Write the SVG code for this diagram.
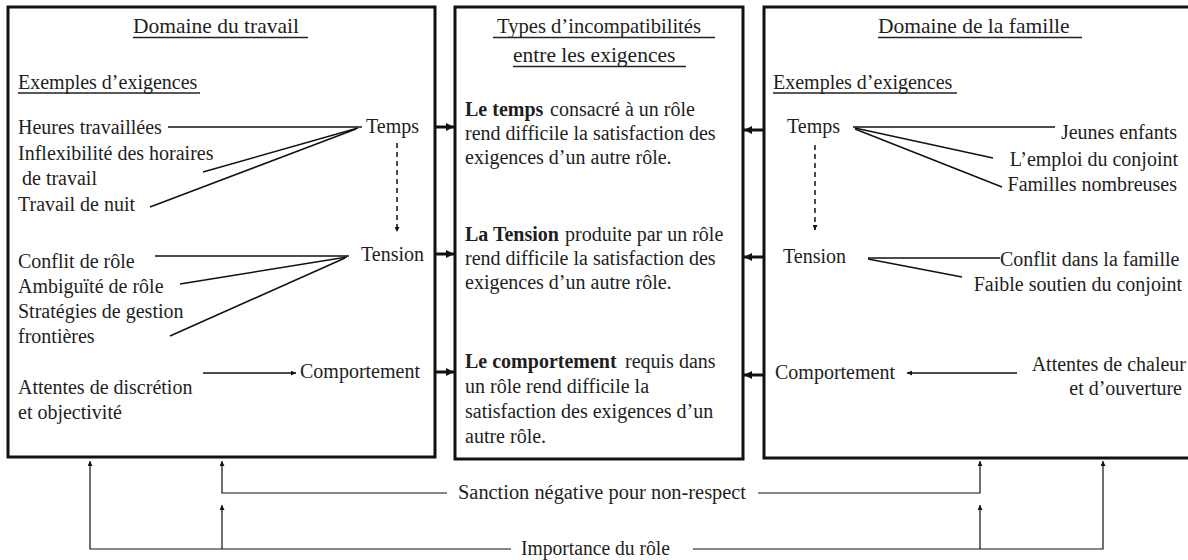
<svg xmlns="http://www.w3.org/2000/svg" width="1188" height="560" viewBox="0 0 1188 560" font-family="'Liberation Serif', 'DejaVu Serif', serif">
<style>
  text { font-family: 'Liberation Serif', 'DejaVu Serif', serif; font-size: 20px; fill: #1e1e1e; }
  .title { font-size: 21.5px; }
  .b { font-weight: bold; }
  .box { fill: #fff; stroke: #111; stroke-width: 3; }
  .ln { stroke: #111; stroke-width: 1.5; fill: none; }
  .thin { stroke: #111; stroke-width: 1.2; fill: none; }
  .dash { stroke-dasharray: 5 4; }
  .ul { stroke: #222; stroke-width: 1.4; }
  .thick { stroke: #111; stroke-width: 3; fill: none; }
</style>
<defs>
  <marker id="ahs" viewBox="0 0 10 10" refX="10" refY="5" markerWidth="7" markerHeight="5" markerUnits="userSpaceOnUse" orient="auto">
    <path d="M0,0 L10,5 L0,10 z" fill="#111"/>
  </marker>
  <marker id="ahb" viewBox="0 0 10 10" refX="10" refY="5" markerWidth="8" markerHeight="9" markerUnits="userSpaceOnUse" orient="auto">
    <path d="M0,0 L10,5 L0,10 z" fill="#111"/>
  </marker>
</defs>

<g id="travail">
  <rect class="box" x="8" y="7" width="427" height="450"/>
  <text class="title" x="133" y="33">Domaine du travail</text>
  <line class="ul" x1="133" y1="37.5" x2="308" y2="37.5"/>
  <text x="18" y="89">Exemples d’exigences</text>
  <line class="ul" x1="18" y1="93" x2="200" y2="93"/>
  <text x="18" y="134">Heures travaillées</text>
  <text x="18" y="160">Inflexibilité des horaires</text>
  <text x="22" y="185">de travail</text>
  <text x="18" y="211">Travail de nuit</text>
  <text x="366" y="133">Temps</text>
  <text x="18" y="268">Conflit de rôle</text>
  <text x="18" y="293">Ambiguïté de rôle</text>
  <text x="18" y="318">Stratégies de gestion</text>
  <text x="18" y="343">frontières</text>
  <text x="361" y="261">Tension</text>
  <text x="18" y="394">Attentes de discrétion</text>
  <text x="18" y="419">et objectivité</text>
  <text x="300" y="378">Comportement</text>
</g>

<g id="incompatibilites">
  <rect class="box" x="455" y="7" width="288" height="452"/>
  <text class="title" x="497" y="33" textLength="204" lengthAdjust="spacingAndGlyphs">Types d’incompatibilités</text>
  <line class="ul" x1="493" y1="37.5" x2="715" y2="37.5"/>
  <text class="title" x="513" y="62">entre les exigences</text>
  <line class="ul" x1="513" y1="66.5" x2="686" y2="66.5"/>
  <text x="465" y="116"><tspan class="b">Le temps</tspan><tspan x="550">consacré à un rôle</tspan></text>
  <text x="465" y="140">rend difficile la satisfaction des</text>
  <text x="465" y="164">exigences d’un autre rôle.</text>
  <text x="465" y="241"><tspan class="b">La Tension</tspan><tspan x="565">produite par un rôle</tspan></text>
  <text x="465" y="265">rend difficile la satisfaction des</text>
  <text x="465" y="289">exigences d’un autre rôle.</text>
  <text x="465" y="368"><tspan class="b">Le comportement</tspan><tspan x="625">requis dans</tspan></text>
  <text x="465" y="393">un rôle rend difficile la</text>
  <text x="465" y="418">satisfaction des exigences d’un</text>
  <text x="465" y="443">autre rôle.</text>
</g>

<g id="famille">
  <rect class="box" x="764" y="7" width="430" height="451"/>
  <text class="title" x="878" y="33">Domaine de la famille</text>
  <line class="ul" x1="878" y1="37.5" x2="1082" y2="37.5"/>
  <text x="773" y="89">Exemples d’exigences</text>
  <line class="ul" x1="773" y1="93" x2="957" y2="93"/>
  <text x="787" y="133">Temps</text>
  <text x="1177" y="139" text-anchor="end">Jeunes enfants</text>
  <text x="1178" y="166" text-anchor="end">L’emploi du conjoint</text>
  <text x="1177" y="191" text-anchor="end">Familles nombreuses</text>
  <text x="783" y="263">Tension</text>
  <text x="1000" y="266">Conflit dans la famille</text>
  <text x="1182" y="291" text-anchor="end">Faible soutien du conjoint</text>
  <text x="775" y="379">Comportement</text>
  <text x="1186" y="371" text-anchor="end">Attentes de chaleur</text>
  <text x="1182" y="395" text-anchor="end">et d’ouverture</text>
</g>

<g id="sanction">
  <text x="458" y="499" textLength="288" lengthAdjust="spacingAndGlyphs">Sanction négative pour non-respect</text>
</g>
<g id="importance">
  <text x="521" y="555" textLength="149" lengthAdjust="spacingAndGlyphs">Importance du rôle</text>
</g>

<g id="connectors">
  <line class="ln" x1="168" y1="127" x2="362" y2="127"/>
  <line class="ln" x1="203" y1="172" x2="358" y2="128"/>
  <line class="ln" x1="150" y1="207" x2="356" y2="129"/>
  <line class="ln dash" x1="397" y1="143" x2="397" y2="232" marker-end="url(#ahs)"/>
  <line class="ln" x1="155" y1="256" x2="349" y2="256"/>
  <line class="ln" x1="180" y1="284" x2="347" y2="257"/>
  <line class="ln" x1="170" y1="336" x2="345" y2="258"/>
  <line class="ln" x1="203" y1="373" x2="296" y2="373" marker-end="url(#ahs)"/>
  <line class="ln" x1="853" y1="127" x2="1055" y2="127"/>
  <line class="ln" x1="855" y1="128" x2="993" y2="158"/>
  <line class="ln" x1="855" y1="129" x2="1002" y2="187"/>
  <line class="ln dash" x1="815" y1="145" x2="815" y2="230" marker-end="url(#ahs)"/>
  <line class="ln" x1="868" y1="258" x2="1000" y2="258"/>
  <line class="ln" x1="868" y1="259" x2="962" y2="277"/>
  <line class="ln" x1="1017" y1="373" x2="907" y2="373" marker-end="url(#ahs)"/>
  <line class="thick" x1="436" y1="127" x2="454" y2="127" marker-end="url(#ahb)"/>
  <line class="thick" x1="436" y1="254" x2="454" y2="254" marker-end="url(#ahb)"/>
  <line class="thick" x1="436" y1="372" x2="454" y2="372" marker-end="url(#ahb)"/>
  <line class="thick" x1="763" y1="130" x2="744" y2="130" marker-end="url(#ahb)"/>
  <line class="thick" x1="763" y1="257" x2="744" y2="257" marker-end="url(#ahb)"/>
  <line class="thick" x1="763" y1="375" x2="744" y2="375" marker-end="url(#ahb)"/>
  <polyline class="thin" points="447,493 222,493 222,461" marker-end="url(#ahs)"/>
  <polyline class="thin" points="758,493 980,493 980,461" marker-end="url(#ahs)"/>
  <polyline class="thin" points="511,549 90,549 90,461" marker-end="url(#ahs)"/>
  <polyline class="thin" points="693,549 1103,549 1103,461" marker-end="url(#ahs)"/>
  <line class="thin" x1="222" y1="549" x2="222" y2="505" marker-end="url(#ahs)"/>
  <line class="thin" x1="980" y1="549" x2="980" y2="505" marker-end="url(#ahs)"/>
</g>
</svg>
